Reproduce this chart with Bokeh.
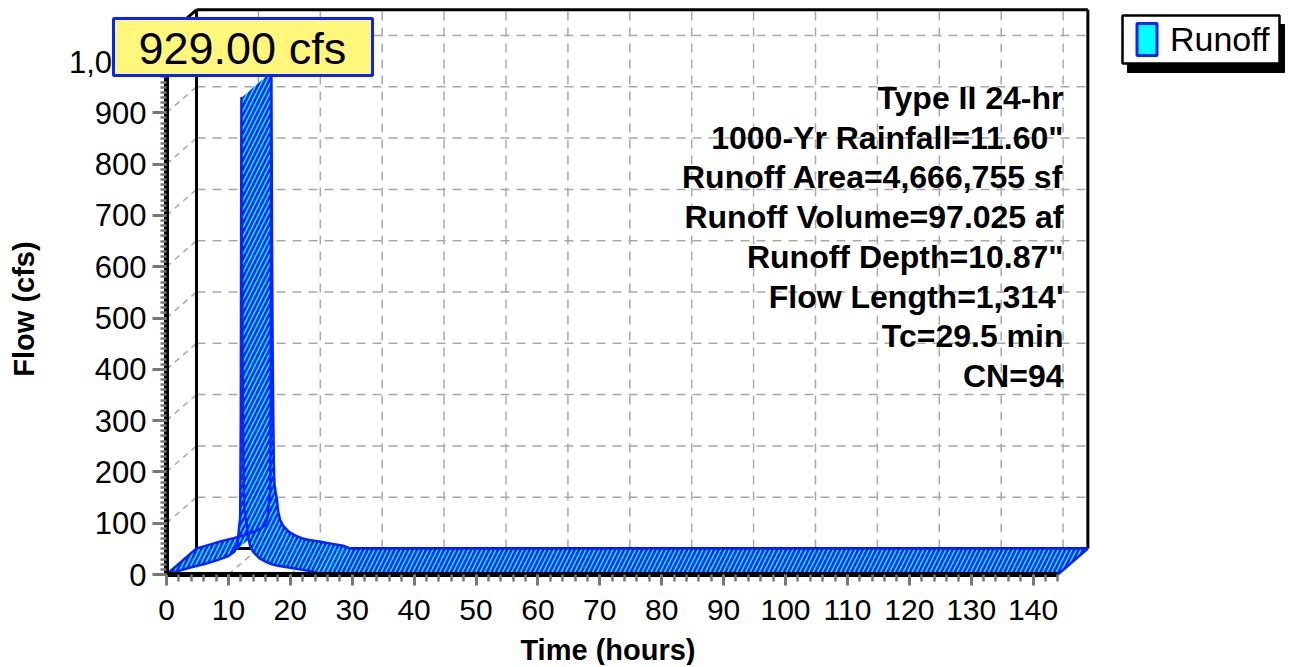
from bokeh.plotting import figure
from bokeh.models import (Range1d, FixedTicker, NumeralTickFormatter, Label,
                          BoxAnnotation, Legend, LegendItem)
from bokeh.embed import file_html
from bokeh.resources import INLINE

time_hr = [0, 2, 4, 6, 8, 10, 11, 11.5, 11.7, 11.9, 12.0, 12.1, 12.2, 12.3,
           12.4, 12.5, 12.6, 12.8, 13.0, 13.2, 13.5, 14.0, 15.0, 16.0, 17.0,
           18.0, 20.0, 22.0, 23.5, 24.0, 24.5, 25.0, 144.0]
flow_cfs = [0, 7, 14, 20, 27, 36, 45, 60, 90, 110, 300, 929, 600, 390,
            260, 160, 125, 108, 95, 72, 56, 44, 32, 25, 20,
            17, 13, 9, 6, 4, 1.5, 0, 0]

x_ticks = list(range(0, 141, 10))
x_minor = list(range(0, 145, 2))
y_ticks = list(range(0, 1001, 100))
y_minor = list(range(0, 1041, 10))

info_lines = ["Type II 24-hr", '1000-Yr Rainfall=11.60"',
              "Runoff Area=4,666,755 sf", "Runoff Volume=97.025 af",
              'Runoff Depth=10.87"', "Flow Length=1,314'", "Tc=29.5 min",
              "CN=94"]
series_name = "Runoff"
x_label = "Time  (hours)"
y_label = "Flow  (cfs)"
peak_text = "%.2f cfs" % max(flow_cfs)

# ---------------- layout / style ----------------
FONT = "Liberation Sans"
W, H = 1288, 665
ORIGIN_X, ORIGIN_Y = 166, H - 574  # pixel position of (0, 0) from left / bottom
SX, SY = 6.19, 0.513               # pixels per hour / per cfs
X_MAX, Y_MAX = 144.0, 1050.0       # front box extent
DEPTH_X_PX, DEPTH_Y_PX = 30, 26    # 3-D depth offset in pixels
DX = DEPTH_X_PX / SX
DY = DEPTH_Y_PX / SY

CYAN = "#00ffff"
BLUE = "#0a22ff"
GRID = "#a9a9a9"
NAN = float("nan")

p = figure(width=W, height=H,
           x_range=Range1d(-ORIGIN_X / SX, (W - ORIGIN_X) / SX),
           y_range=Range1d(-ORIGIN_Y / SY, (H - ORIGIN_Y) / SY),
           output_backend="svg", toolbar_location=None, min_border=0,
           min_border_left=0, min_border_right=0, min_border_top=0,
           min_border_bottom=0, outline_line_color=None,
           background_fill_color="white", border_fill_color="white")
p.xgrid.visible = False
p.ygrid.visible = False

# ---------------- back wall grid (dashed) ----------------
gx = [t + DX for t in x_ticks[1:]]
p.segment(x0=gx, y0=[DY] * len(gx), x1=gx, y1=[Y_MAX + DY] * len(gx),
          line_color=GRID, line_width=1.5, line_dash="9 7")
gy = [q + DY for q in y_ticks[1:]]
p.segment(x0=[DX] * len(gy), y0=gy, x1=[X_MAX + DX] * len(gy), y1=gy,
          line_color=GRID, line_width=1.5, line_dash="9 7")
# left wall diagonals
p.segment(x0=[0] * len(y_ticks[1:]), y0=y_ticks[1:],
          x1=[DX] * len(y_ticks[1:]), y1=gy,
          line_color=GRID, line_width=1.5, line_dash="6 5")
# floor diagonals
p.segment(x0=x_ticks[1:], y0=[0] * len(gx), x1=gx, y1=[DY] * len(gx),
          line_color=GRID, line_width=1.5, line_dash="6 5")

# ---------------- box edges ----------------
bx0 = [DX, DX, X_MAX + DX, DX, 0]
by0 = [DY, Y_MAX + DY, DY, DY, Y_MAX]
bx1 = [DX, X_MAX + DX, X_MAX + DX, X_MAX + DX, DX]
by1 = [Y_MAX + DY, Y_MAX + DY, Y_MAX + DY, DY, Y_MAX + DY]
p.segment(x0=bx0, y0=by0, x1=bx1, y1=by1, line_color="black", line_width=3)

# ---------------- 3-D ribbon ----------------
xs, ys = [], []
for i in range(len(time_hr) - 1):
    t0, t1 = time_hr[i], time_hr[i + 1]
    q0, q1 = flow_cfs[i], flow_cfs[i + 1]
    xs.append([t0, t1, t1 + DX, t0 + DX])
    ys.append([q0, q1, q1 + DY, q0 + DY])
p.patches(xs, ys, fill_color=CYAN, line_color=None, hatch_pattern="/",
          hatch_color=BLUE, hatch_scale=9, hatch_weight=2.6)
p.line(time_hr, flow_cfs, line_color=BLUE, line_width=2.5, line_join="round")
p.line([t + DX for t in time_hr], [q + DY for q in flow_cfs],
       line_color=BLUE, line_width=2.5, line_join="round")
p.segment(x0=[time_hr[0], time_hr[-1]], y0=[flow_cfs[0], flow_cfs[-1]],
          x1=[time_hr[0] + DX, time_hr[-1] + DX],
          y1=[flow_cfs[0] + DY, flow_cfs[-1] + DY],
          line_color=BLUE, line_width=2.5)

# ---------------- axes (pinned at the front origin) ----------------
xa = p.xaxis[0]
xa.ticker = FixedTicker(ticks=x_ticks, minor_ticks=x_minor)
xa.bounds = (0, X_MAX)
xa.fixed_location = 0
ya = p.yaxis[0]
ya.ticker = FixedTicker(ticks=y_ticks, minor_ticks=y_minor)
ya.formatter = NumeralTickFormatter(format="0,0")
ya.bounds = (0, Y_MAX)
ya.fixed_location = 0
for ax in (xa, ya):
    ax.axis_line_color = "black"
    ax.axis_line_width = 5
    ax.major_tick_in = 0
    ax.minor_tick_in = 0
    ax.major_tick_line_color = "#787878"
    ax.major_tick_line_width = 3
    ax.minor_tick_line_color = "#787878"
    ax.minor_tick_line_width = 2.5
    ax.major_label_text_font = FONT
    ax.major_label_text_color = "black"
    ax.axis_label_text_font = FONT
    ax.axis_label_text_font_style = "bold"
    ax.axis_label_text_font_size = "29px"
    ax.axis_label_text_color = "black"
xa.major_tick_out = 11
xa.minor_tick_out = 7
xa.major_label_text_font_size = "30px"
xa.major_label_standoff = 14
xa.axis_label = x_label
xa.axis_label_standoff = 11
ya.major_tick_out = 14
ya.minor_tick_out = 6
ya.major_label_text_font_size = "31px"
ya.major_label_standoff = 6
ya.axis_label = y_label
ya.axis_label_standoff = 26

# ---------------- info text block (screen px from bottom-left) ----------------
for i, line in enumerate(info_lines):
    p.add_layout(Label(x=1063, y=H - (97.5 + 39.7 * i), x_units="screen",
                       y_units="screen", text=line, text_align="right",
                       text_baseline="alphabetic", text_font=FONT,
                       text_font_style="bold", text_font_size="32px",
                       text_color="black"))

# ---------------- peak label ----------------
p.add_layout(BoxAnnotation(left=113, right=372, top=H - 18, bottom=H - 75,
                           left_units="screen", right_units="screen",
                           top_units="screen", bottom_units="screen",
                           fill_color="#fff77c", fill_alpha=1.0,
                           line_color=BLUE, line_width=3, line_alpha=1.0))
p.add_layout(Label(x=138, y=H - 48, x_units="screen", y_units="screen",
                   text=peak_text, text_align="left",
                   text_baseline="alphabetic", text_font=FONT,
                   text_font_size="45px", text_color="black"))

# ---------------- legend ----------------
p.add_layout(BoxAnnotation(left=1127, right=1284, top=H - 24, bottom=H - 72,
                           left_units="screen", right_units="screen",
                           top_units="screen", bottom_units="screen",
                           fill_color="black", fill_alpha=1.0,
                           line_color="black", line_alpha=1.0))
p.add_layout(BoxAnnotation(left=1122, right=1279, top=H - 15, bottom=H - 63,
                           left_units="screen", right_units="screen",
                           top_units="screen", bottom_units="screen",
                           fill_color="white", fill_alpha=1.0,
                           line_color="black", line_width=2.5, line_alpha=1.0))
leg_r = p.quad(left=[NAN], right=[NAN], top=[NAN], bottom=[NAN],
               fill_color=CYAN, line_color=BLUE, line_width=3)
legend = Legend(items=[LegendItem(label=series_name, renderers=[leg_r])],
                location=(1134, H - 59), padding=0, margin=0, spacing=0,
                border_line_color=None, background_fill_alpha=0,
                glyph_width=25, glyph_height=40, label_standoff=11,
                label_text_font=FONT, label_text_font_size="34px",
                label_text_color="black")
p.add_layout(legend)

open("out.html", "w").write(file_html(p, INLINE))
